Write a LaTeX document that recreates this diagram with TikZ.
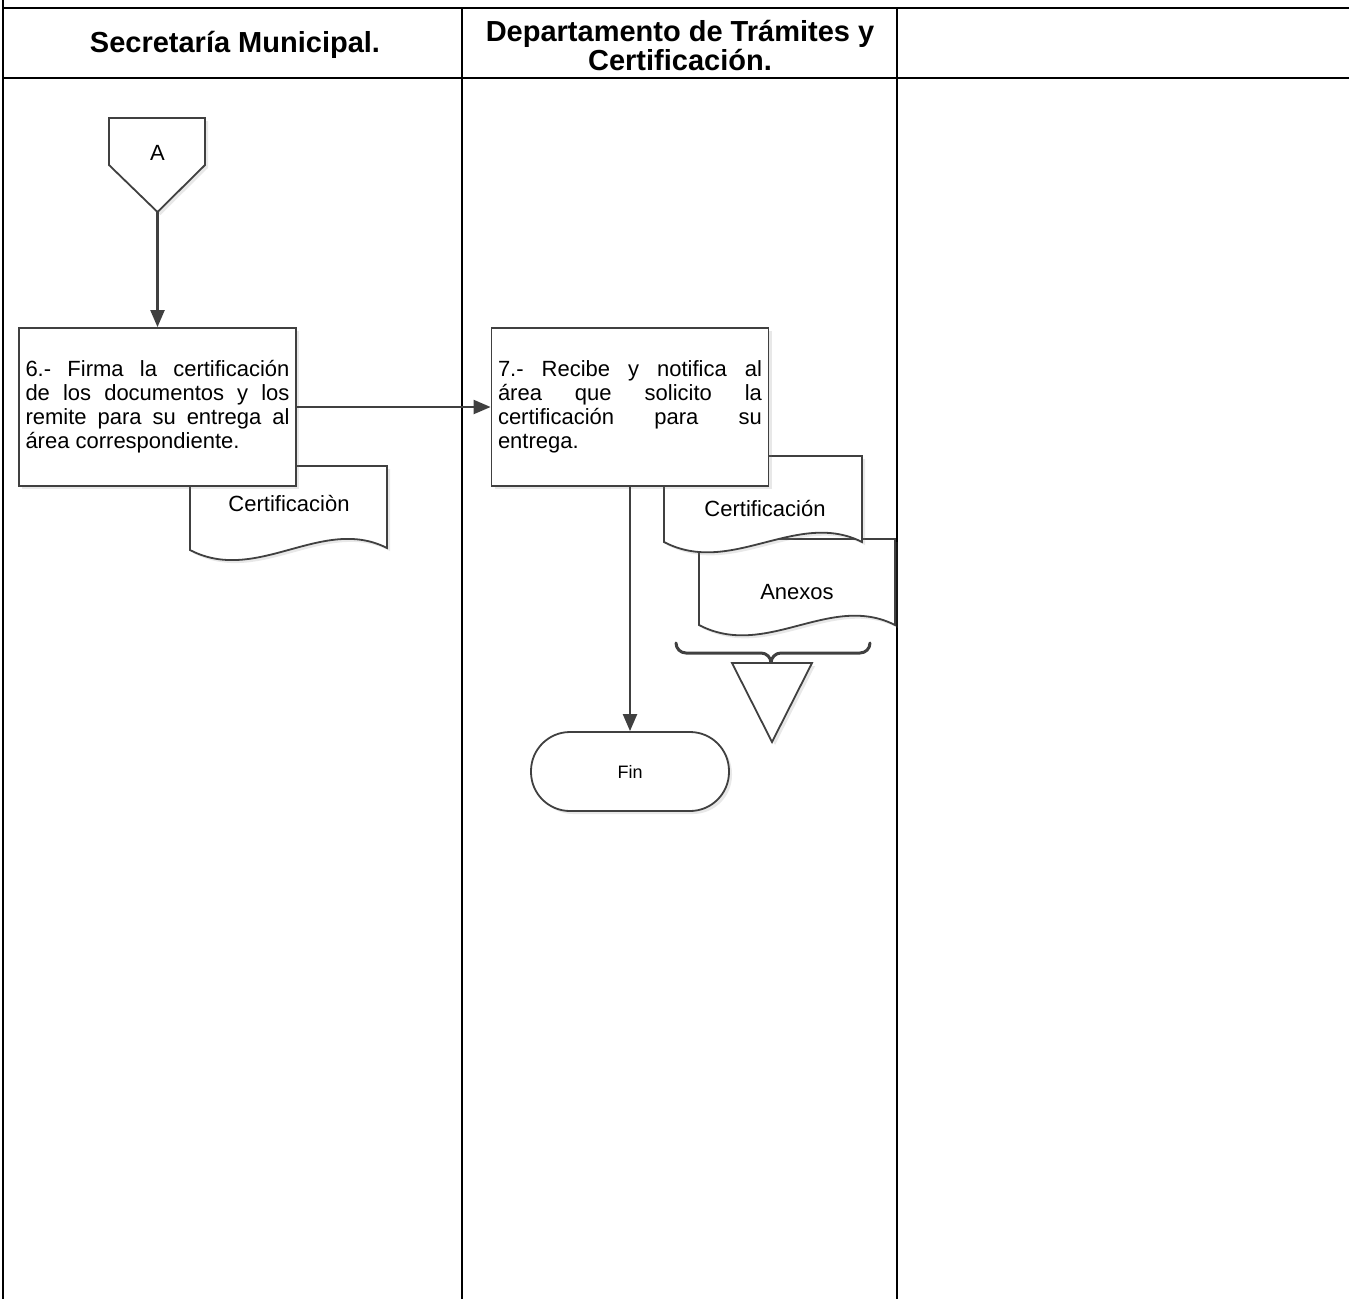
\documentclass[tikz,border=0pt]{standalone}
\usepackage{fontspec}
\setmainfont{Liberation Sans}
\usetikzlibrary{arrows.meta,shadows}
\definecolor{shapegray}{HTML}{404040}
\begin{document}
\begin{tikzpicture}[x=1pt,y=-1pt,
  gridline/.style={line width=2pt,black},
  shp/.style={draw=shapegray,line width=1.8pt,fill=white,
    drop shadow={opacity=0.18,shadow xshift=3pt,shadow yshift=-3pt}},
  procbox/.style={shp,minimum width=277pt,minimum height=158pt,inner sep=0pt,
    font=\fontsize{22}{24}\selectfont},
  flow/.style={draw=shapegray,line width=2.2pt,-{Triangle[length=17pt,width=14pt]}},
  hdr/.style={font=\fontsize{29}{29}\selectfont\bfseries,align=center},
  lbl/.style={font=\fontsize{22}{24}\selectfont},
  term/.style={shp,rounded corners=39pt,minimum width=198pt,minimum height=79pt,
    font=\fontsize{18}{20}\selectfont},
  bracestyle/.style={draw=shapegray,line width=3pt,line cap=round}
]
\useasboundingbox (0,0) rectangle (1349,1299);
% grid
\draw[gridline] (3,0) -- (3,1299);
\draw[gridline] (3,8) -- (1349,8);
\draw[gridline] (3,78) -- (1349,78);
\draw[gridline] (462,8) -- (462,1299);
\draw[gridline] (897,8) -- (897,1299);
% headers
\node[hdr] (h1) at (235,45) {Secretaría Municipal.};
\node[hdr] (h2) at (680,46) {Departamento de Trámites y\\Certificación.};
% off-page connector A
\draw[shp] (109,118) -- (205,118) -- (205,165) -- (157.5,212) -- (109,165) -- cycle;
\node[lbl] (A) at (157.5,153) {A};
\coordinate (Atip) at (157.5,212);
% left document
\draw[shp] (190,466) -- (387,466) -- (387,548) .. controls (322,515) and (257,585) .. (190,550) -- cycle;
\node[lbl] (d1) at (289,503) {Certificaciòn};
% box 6
\node[procbox] (p6) at (157.5,407) {\parbox{264pt}{\hyphenpenalty=10000
6.- Firma la certificación\linebreak de los documentos y los\linebreak remite para su entrega al\linebreak área correspondiente.}};
% right documents
\draw[shp] (699,539) -- (895,539) -- (895,625) .. controls (830,592) and (766,660) .. (699,625) -- cycle;
\node[lbl] (d3) at (797,592) {Anexos};
\draw[shp] (664,456) -- (862,456) -- (862,542) .. controls (797,509) and (731,577) .. (664,542) -- cycle;
\node[lbl] (d2) at (765,508) {Certificación};
% box 7
\node[procbox] (p7) at (630,407) {\parbox{264pt}{\hyphenpenalty=10000
7.- Recibe y notifica al\linebreak área que solicito la\linebreak certificación para su\linebreak entrega.}};
% brace and archive triangle
\draw[bracestyle] (676,643) to[out=-90,in=180] (686,653) -- (761,653) to[out=0,in=90] (771,663)
  to[out=90,in=180] (781,653) -- (860,653) to[out=0,in=-90] (870,643);
\draw[shp] (732,663) -- (812,663) -- (772,742) -- cycle;
% terminator
\node[term] (fin) at (630,771.5) {Fin};
% connectors
\draw[flow] (Atip) -- (p6.north);
\draw[flow] (p6.east) -- (p7.west);
\draw[flow] (p7.south) -- (fin.north);
\end{tikzpicture}
\end{document}
